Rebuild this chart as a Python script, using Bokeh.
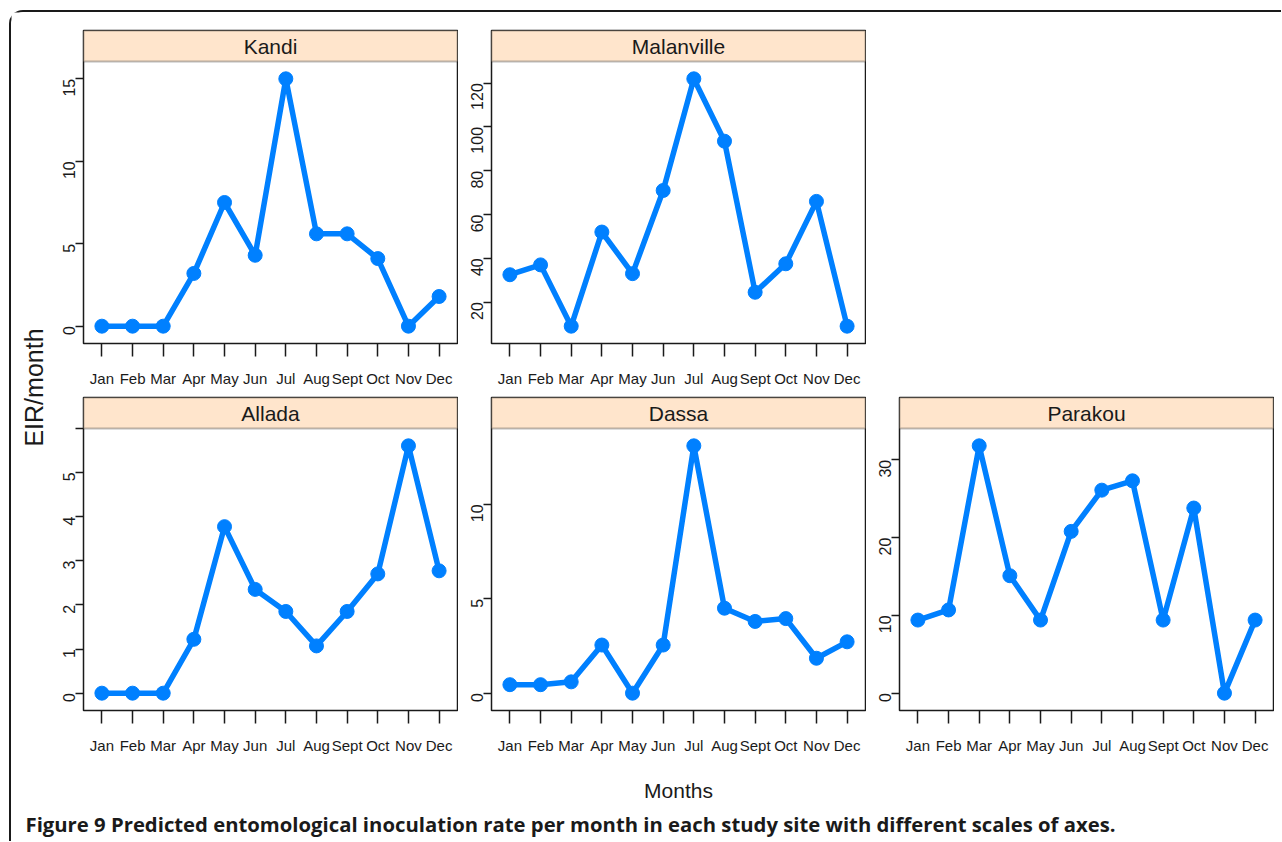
import math
from bokeh.plotting import figure
from bokeh.layouts import row, column
from bokeh.models import Range1d, FixedTicker, BoxAnnotation, Label
from bokeh.embed import file_html
from bokeh.resources import INLINE

# ---------------- data ----------------
months = ["Jan", "Feb", "Mar", "Apr", "May", "Jun", "Jul", "Aug", "Sept", "Oct", "Nov", "Dec"]
kandi = [0, 0, 0, 3.2, 7.5, 4.3, 15.0, 5.6, 5.6, 4.1, 0, 1.8]
malanville = [32.5, 37, 9, 52, 33, 71, 122, 93.5, 24.5, 37.5, 66, 9]
allada = [0, 0, 0, 1.22, 3.77, 2.35, 1.85, 1.07, 1.85, 2.7, 5.6, 2.77]
dassa = [0.45, 0.45, 0.6, 2.55, 0, 2.55, 13.1, 4.5, 3.8, 3.95, 1.85, 2.72]
parakou = [9.4, 10.7, 31.8, 15.1, 9.4, 20.8, 26.1, 27.3, 9.4, 23.8, 0, 9.4]

kandi_ticks = [0, 5, 10, 15]
malanville_ticks = [20, 40, 60, 80, 100, 120]
allada_ticks = [0, 1, 2, 3, 4, 5, 6]
dassa_ticks = [0, 5, 10]
parakou_ticks = [0, 10, 20, 30]

y_title = "EIR/month"
x_title = "Months"
caption = ("Figure 9 Predicted entomological inoculation rate per month "
           "in each study site with different scales of axes.")

# ---------------- style ----------------
LINE_COL = "#0080ff"
STRIP_COL = "#ffe5cc"
INK = "#1a1a1a"
SANS = "Liberation Sans"
PLOT_H = 282
STRIP_H = 31


def panel(name, vals, ticks, fw, left, right, top, bottom, hidden=(), xlabel=None):
    xs = list(range(1, len(months) + 1))
    dmin, dmax = min(vals), max(vals)
    pad = 0.07 * (dmax - dmin)
    lo, hi = dmin - pad, dmax + pad
    yend = lo + (hi - lo) * (PLOT_H + STRIP_H) / PLOT_H
    x0, x1 = 0.4, len(months) + 0.6
    p = figure(frame_width=fw, frame_height=PLOT_H + STRIP_H,
               x_range=Range1d(x0, x1), y_range=Range1d(lo, yend),
               output_backend="svg", toolbar_location=None,
               min_border_left=left, min_border_right=right,
               min_border_top=top, min_border_bottom=bottom)
    p.xgrid.visible = False
    p.ygrid.visible = False
    p.background_fill_color = "white"
    p.border_fill_color = "white"
    p.outline_line_color = INK
    p.outline_line_width = 1.5

    p.xaxis.ticker = FixedTicker(ticks=xs)
    p.xaxis.major_label_overrides = {i: m for i, m in zip(xs, months)}
    p.yaxis.ticker = FixedTicker(ticks=ticks)
    p.yaxis.major_label_overrides = {t: ("" if t in hidden else str(t)) for t in ticks}
    for ax in (p.xaxis[0], p.yaxis[0]):
        ax.axis_line_color = None
        ax.minor_tick_line_color = None
        ax.major_tick_line_color = INK
        ax.major_tick_line_width = 1.5
        ax.major_tick_in = 0
        ax.major_label_text_color = INK
    p.xaxis.major_tick_out = 13
    p.xaxis.major_label_standoff = 13
    p.xaxis.major_label_text_font = SANS
    p.xaxis.major_label_text_font_size = "15px"
    p.yaxis.major_tick_out = 8
    p.yaxis.major_label_standoff = 6
    p.yaxis.major_label_orientation = math.pi / 2
    p.yaxis.major_label_text_font = SANS
    p.yaxis.major_label_text_font_size = "16px"
    if xlabel:
        p.xaxis.axis_label = xlabel
        p.xaxis.axis_label_standoff = 22
        p.xaxis.axis_label_text_font = SANS
        p.xaxis.axis_label_text_font_size = "21px"
        p.xaxis.axis_label_text_font_style = "normal"
        p.xaxis.axis_label_text_color = INK

    # strip
    p.add_layout(BoxAnnotation(left=x0, right=x1, bottom=hi, top=yend,
                               fill_color=STRIP_COL, fill_alpha=1.0,
                               line_color=INK, line_width=2))
    p.add_layout(Label(x=(x0 + x1) / 2, y=(hi + yend) / 2, text=name,
                       text_align="center", text_baseline="middle",
                       text_font=SANS, text_font_size="21px", text_color=INK))

    p.line(xs, vals, line_color=LINE_COL, line_width=5.5)
    p.scatter(xs, vals, size=14, fill_color=LINE_COL, line_color=LINE_COL)
    return p


# row 1
p_kandi = panel("Kandi", kandi, kandi_ticks, 374, 35, 1, 18, 50)
p_mal = panel("Malanville", malanville, malanville_ticks, 374, 33, 1, 18, 50)
# row 2
p_all = panel("Allada", allada, allada_ticks, 374, 35, 1, 4, 95, hidden=(6,))
p_das = panel("Dassa", dassa, dassa_ticks, 374, 33, 1, 4, 95, xlabel=x_title)
p_par = panel("Parakou", parakou, parakou_ticks, 374, 33, 1, 4, 95)

# y title figure
YW, YH = 37, 381 + 412
ylab = figure(width=YW, height=YH, x_range=Range1d(0, YW), y_range=Range1d(0, YH),
              x_axis_type=None, y_axis_type=None, output_backend="svg",
              toolbar_location=None, min_border=0)
ylab.outline_line_color = None
ylab.add_layout(Label(x=22, y=YH - 375, text=y_title, angle=math.pi / 2,
                      text_align="center", text_baseline="middle",
                      text_font=SANS, text_font_size="25px",
                      text_color=INK))

# caption figure
CW, CH = 1270, 36
cap = figure(width=CW, height=CH, x_range=Range1d(0, CW), y_range=Range1d(0, CH),
             x_axis_type=None, y_axis_type=None, output_backend="svg",
             toolbar_location=None, min_border=0)
cap.outline_line_color = None
cap.add_layout(Label(x=14, y=CH - 18, text=caption, text_align="left",
                     text_baseline="middle", text_font="Open Sans",
                     text_font_style="bold", text_font_size="20.3px",
                     text_color=INK))

panels = column(row(p_kandi, p_mal), row(p_all, p_das, p_par))
root = column(row(ylab, panels), cap,
              styles={"border-top": "2px solid #1a1a1a",
                      "border-left": "2px solid #1a1a1a",
                      "border-top-left-radius": "14px",
                      "margin-left": "9px", "margin-top": "10px"})

open("out.html", "w").write(file_html(root, INLINE))
